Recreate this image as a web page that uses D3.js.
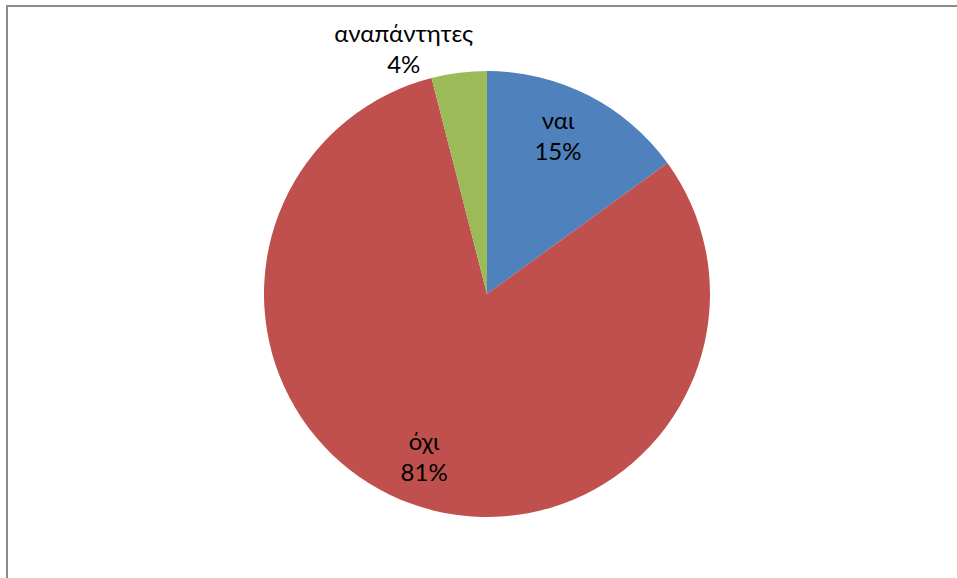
<!DOCTYPE html>
<html><head><meta charset="utf-8">
<script src="https://cdn.jsdelivr.net/npm/d3@7"></script>
<style>body{margin:0;background:#fff}svg{display:block}</style>
</head><body>
<svg id="c" width="957" height="578"></svg>
<script>
const categories = ["ναι", "όχι", "αναπάντητες"];
const values = [15, 81, 4];
const labels = ["15%", "81%", "4%"];
const colors = ["#4F81BD", "#C0504D", "#9BBB59"];

const svg = d3.select("#c");
svg.append("rect").attr("x", 7).attr("y", 6).attr("width", 1000).attr("height", 1000)
  .attr("fill", "none").attr("stroke", "#8c8c8c").attr("stroke-width", 2);

const cx = 487, cy = 294, r = 223;
const g = svg.append("g").attr("transform", `translate(${cx},${cy})`);
const pie = d3.pie().sort(null).value(d => d)(values);
const arc = d3.arc().innerRadius(0).outerRadius(r);
g.selectAll("path").data(pie).join("path")
  .attr("d", arc).attr("fill", (d, i) => colors[i]);

// label placement: radius fraction and nudges
const labelR = [0.78, 0.78, 1.12];
const nudgeX = [-8, -4, -52];
const nudgeY = [-5, -3, 1];
pie.forEach((d, i) => {
  const a = (d.startAngle + d.endAngle) / 2;
  const rr = r * labelR[i];
  const x = Math.sin(a) * rr + nudgeX[i], y = -Math.cos(a) * rr + nudgeY[i];
  const t = g.append("text").attr("text-anchor", "middle")
    .attr("font-family", "Lato, 'Liberation Sans', sans-serif").attr("font-size", 24).attr("fill", "#000");
  t.append("tspan").attr("x", x).attr("y", y - 5).text(categories[i]);
  t.append("tspan").attr("x", x).attr("y", y + 26).text(labels[i]);
});
</script>
</body></html>
